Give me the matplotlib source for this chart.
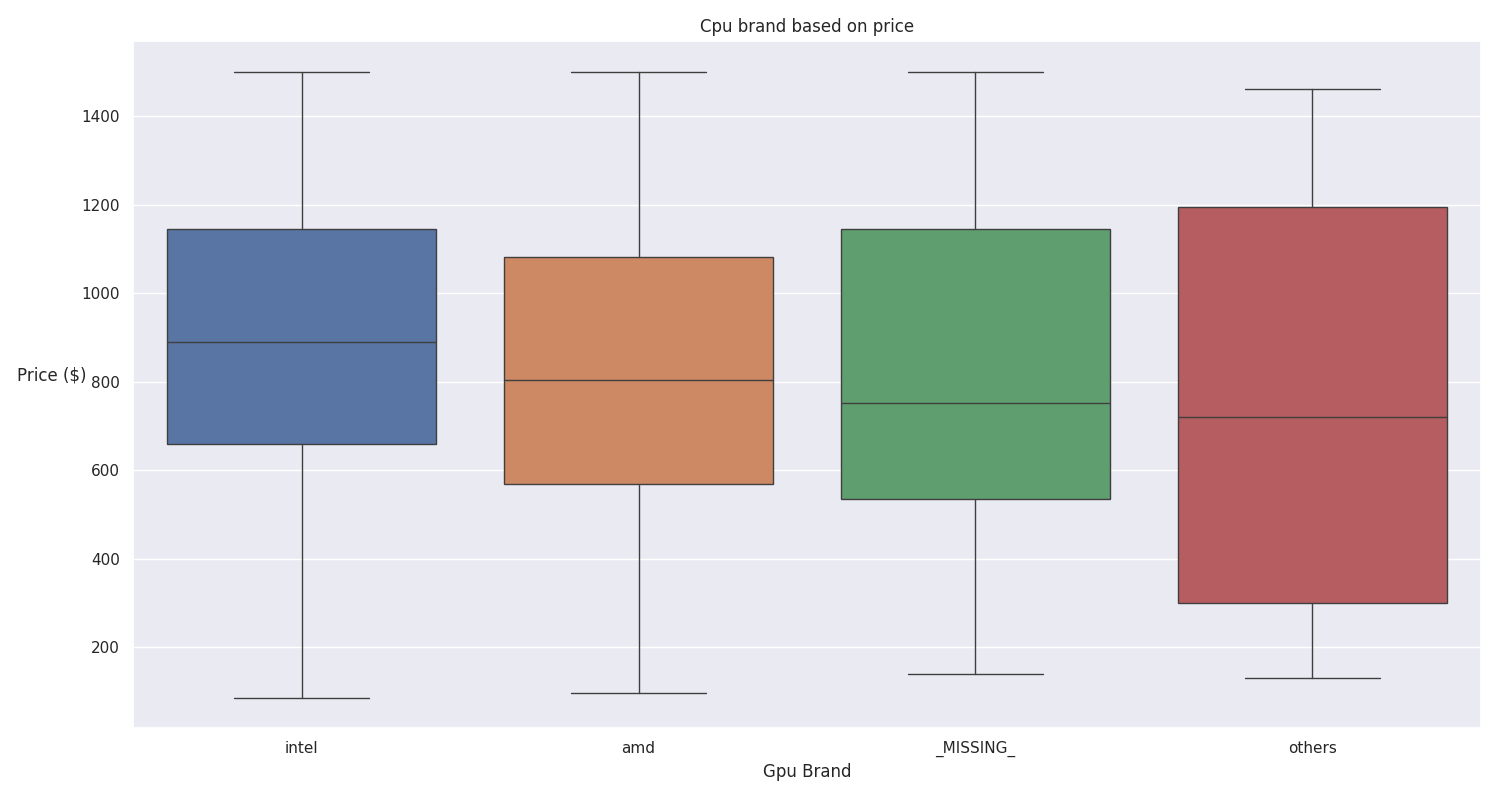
import numpy as np
import matplotlib
matplotlib.use("Agg")
import matplotlib.pyplot as plt
import seaborn as sns

brands = ["intel", "amd", "_MISSING_", "others"]
whisker_low = [85, 96, 139, 130]
q1 = [659, 568, 534, 299]
median = [891, 803, 751, 720]
q3 = [1145, 1081, 1145, 1194]
whisker_high = [1500, 1500, 1500, 1461]

sns.set_theme()
colors = [sns.desaturate(c, 0.75) for c in sns.color_palette("deep", 4)]
line_color = "#3f3f3f"

stats = []
for i, b in enumerate(brands):
    stats.append({
        "label": b,
        "whislo": whisker_low[i],
        "q1": q1[i],
        "med": median[i],
        "q3": q3[i],
        "whishi": whisker_high[i],
        "fliers": [],
    })

fig, ax = plt.subplots(figsize=(15, 8), dpi=100)
pos = np.arange(len(brands))
bp = ax.bxp(stats, positions=pos, widths=0.8, patch_artist=True,
            showfliers=False,
            boxprops=dict(edgecolor=line_color, linewidth=1),
            medianprops=dict(color=line_color, linewidth=1),
            whiskerprops=dict(color=line_color, linewidth=1),
            capprops=dict(color=line_color, linewidth=1),
            capwidths=0.4)
for patch, c in zip(bp["boxes"], colors):
    patch.set_facecolor(c)

ax.set_xlim(-0.5, len(brands) - 0.5)
ax.set_ylim(18, 1571)
ax.set_title("Cpu brand based on price")
ax.set_xlabel("Gpu Brand")
ax.set_ylabel("Price ($)", rotation=0, labelpad=21)
ax.xaxis.grid(False)

fig.subplots_adjust(left=0.0887, right=0.9873, top=0.9491, bottom=0.0904)
fig.savefig("out.png")
